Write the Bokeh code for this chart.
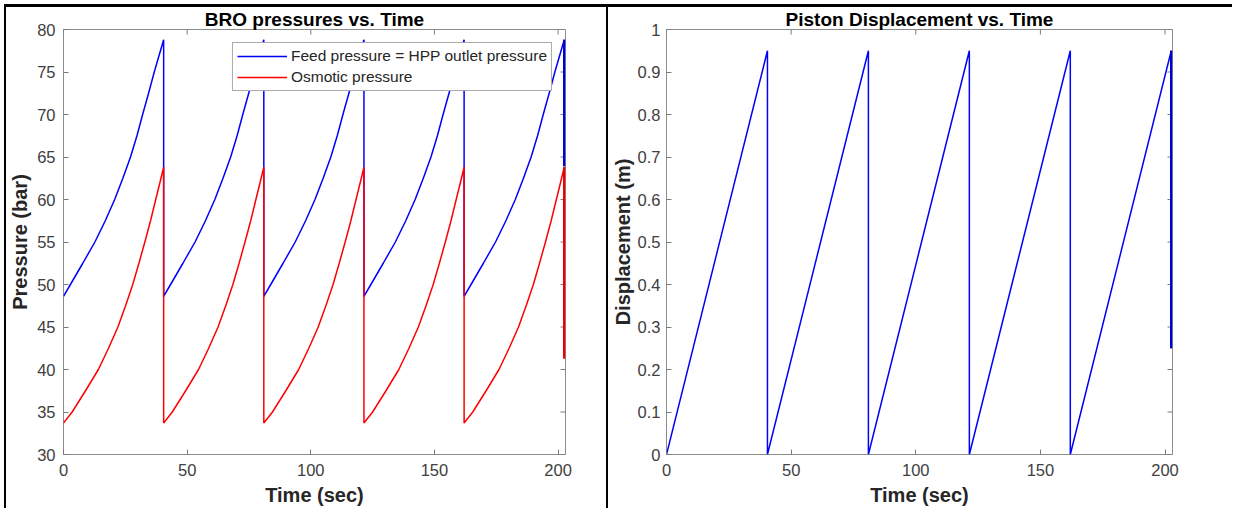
import math
from bokeh.plotting import figure
from bokeh.layouts import row, column
from bokeh.models import Range1d, FixedTicker, Legend, LegendItem, CustomJSTickFormatter, Div
from bokeh.embed import file_html
from bokeh.resources import INLINE

# ---- data ----
# one pressure cycle (time since cycle start, bar); the same cycle repeats every 40.5 s
cycle_starts = [0.0, 40.5, 81.0, 121.5, 162.0]
feed_cycle_t = [0, 2.8, 7.8, 12.7, 16.9, 20.7, 24.0, 27.1, 29.7, 32.0, 34.4, 36.7, 38.7, 40.5]
feed_cycle_p = [48.6, 50.0, 52.5, 55.0, 57.5, 60.0, 62.5, 65.0, 67.5, 70.0, 72.5, 75.0, 77.0, 78.8]
osm_cycle_t = [0, 3.5, 8.9, 14.1, 18.2, 22.0, 25.1, 28.0, 30.5, 32.9, 35.2, 37.3, 39.0, 40.5]
osm_cycle_p = [33.7, 35.0, 37.5, 40.0, 42.5, 45.0, 47.5, 50.0, 52.5, 55.0, 57.5, 60.0, 62.0, 63.8]
feed_end_p = 63.9     # last value of the feed trace (vertical drop at t = 202.5)
osm_end_p = 41.3      # last value of the osmotic trace

disp_t = [0, 40.5, 40.5, 81.0, 81.0, 121.5, 121.5, 162.0, 162.0, 202.5, 202.5]
disp_m = [0, 0.95, 0, 0.95, 0, 0.95, 0, 0.95, 0, 0.95, 0.25]

time_ticks = [0, 50, 100, 150, 200]
pressure_ticks = [30, 35, 40, 45, 50, 55, 60, 65, 70, 75, 80]
disp_ticks = [0, 0.1, 0.2, 0.3, 0.4, 0.5, 0.6, 0.7, 0.8, 0.9, 1.0]

# assemble the traces from the cycles
feed_t, feed_p, osm_t, osm_p = [], [], [], []
for s in cycle_starts:
    feed_t += [s + t for t in feed_cycle_t]
    feed_p += list(feed_cycle_p)
    osm_t += [s + t for t in osm_cycle_t]
    osm_p += list(osm_cycle_p)
feed_t.append(feed_t[-1]); feed_p.append(feed_end_p)
osm_t.append(osm_t[-1]); osm_p.append(osm_end_p)

FONT = "Liberation Sans"
BOX = "#8c8c8c"
TICK = "#7a7a7a"
LABEL = "#404040"
X_MAX = 203.0


def style_axis(ax, ticks):
    ax.ticker = FixedTicker(ticks=ticks)
    ax.axis_line_color = None
    ax.major_tick_in = 5
    ax.major_tick_out = 0
    ax.major_tick_line_color = TICK
    ax.minor_tick_line_color = None
    ax.major_label_text_font = FONT
    ax.major_label_text_color = LABEL
    ax.major_label_text_font_size = "16.5px"
    ax.axis_label_text_font = FONT
    ax.axis_label_text_font_style = "bold"
    ax.axis_label_text_font_size = "20px"
    ax.axis_label_text_line_height = 1.0
    ax.axis_label_text_color = "#262626"


def make_fig(title, w, h, yr, bl, br, xticks, yticks, ylabel, ystand, ylabstand):
    p = figure(width=w, height=h, x_range=Range1d(0, X_MAX), y_range=yr,
               output_backend="svg", toolbar_location=None,
               min_border_left=bl, min_border_right=br,
               min_border_top=19, min_border_bottom=52)
    p.title.text = title
    p.title.text_font = FONT
    p.title.text_font_size = "19px"
    p.title.text_font_style = "bold"
    p.title.text_color = "#000000"
    p.title.align = "center"
    p.title.standoff = 0
    p.title.text_line_height = 0.9
    p.grid.visible = False
    p.outline_line_color = BOX
    p.outline_line_width = 1
    p.background_fill_color = "white"
    p.border_fill_alpha = 0
    style_axis(p.xaxis[0], xticks)
    style_axis(p.yaxis[0], yticks)
    p.xaxis[0].major_label_standoff = 9
    p.xaxis[0].axis_label_standoff = 5
    p.yaxis[0].major_label_standoff = ystand
    p.yaxis[0].axis_label_standoff = ylabstand
    p.xaxis[0].axis_label = "Time (sec)"
    p.yaxis[0].axis_label = ylabel
    # MATLAB-style inward ticks on the top and right edges of the box
    ylo, yhi = yr.start, yr.end
    p.ray(x=xticks, y=[yhi] * len(xticks), length=5, length_units="screen",
          angle=-math.pi / 2, line_color=TICK, line_width=1)
    p.ray(x=[X_MAX] * len(yticks), y=yticks, length=5, length_units="screen",
          angle=math.pi, line_color=TICK, line_width=1)
    return p


H = 502
# ---- left: pressures ----
p1 = make_fig("BRO pressures vs. Time", 600, H, Range1d(30, 80), 53, 41,
              time_ticks, pressure_ticks, "Pressure (bar)", 8, 3)
r_feed = p1.line(feed_t, feed_p, line_color="#0000ff", line_width=1.5)
r_osm = p1.line(osm_t, osm_p, line_color="#ff0000", line_width=1.5)
p1.line(feed_t[-2:], feed_p[-2:], line_color="#0000dd", line_width=2.5)
p1.line(osm_t[-2:], osm_p[-2:], line_color="#ee0000", line_width=2.5)

legend = Legend(items=[LegendItem(label="Feed pressure = HPP outlet pressure", renderers=[r_feed]),
                       LegendItem(label="Osmotic pressure", renderers=[r_osm])],
                location="top_right")
legend.margin = 13
legend.padding = 4
legend.spacing = 3
legend.glyph_width = 50
legend.glyph_height = 18
legend.label_height = 18
legend.label_standoff = 4
legend.label_text_font = FONT
legend.label_text_font_size = "15.5px"
legend.label_text_color = "#262626"
legend.border_line_color = "#555555"
legend.border_line_width = 1
legend.background_fill_alpha = 1
p1.add_layout(legend, "center")

# ---- right: displacement ----
p2 = make_fig("Piston Displacement vs. Time", 624, H, Range1d(0, 1), 50, 60,
              time_ticks, disp_ticks, "Displacement (m)", 6, 1)
p2.yaxis[0].formatter = CustomJSTickFormatter(code="return String(Number(tick.toFixed(2)));")
p2.line(disp_t, disp_m, line_color="#0000ff", line_width=1.5)
p2.line(disp_t[-2:], disp_m[-2:], line_color="#0000cc", line_width=2.5)

# black frame lines of the surrounding table
black = {"background-color": "black"}
top_line = Div(width=1228, height=3, margin=0, styles=black)
left_line = Div(width=2, height=H, margin=0, styles=black)
mid_line = Div(width=2, height=H, margin=0, styles=black)
fig_row = row(left_line, p1, mid_line, p2, spacing=0, margin=0, styles={"margin-top": "-1px"})
layout = column(top_line, fig_row, spacing=0, margin=(4, 0, 0, 4))

open("out.html", "w").write(file_html(layout, INLINE))
